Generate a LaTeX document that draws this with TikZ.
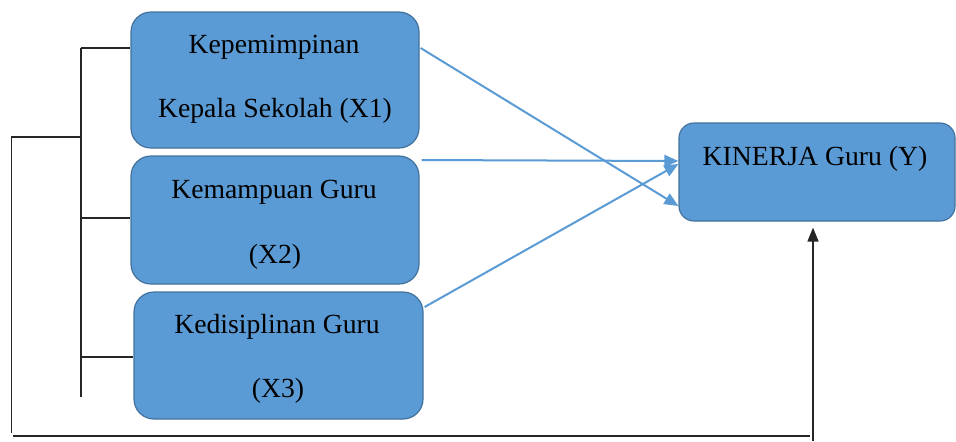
\documentclass[tikz,border=0pt]{standalone}
\usepackage{fontspec}
\setmainfont{Liberation Serif}
\usetikzlibrary{arrows.meta}
\definecolor{boxfill}{HTML}{5B9BD5}
\definecolor{boxline}{HTML}{41719C}
\definecolor{arrowblue}{HTML}{5B9BD5}
\begin{document}
\begin{tikzpicture}[x=0.5pt,y=-0.5pt,
  varbox/.style={draw=boxline, line width=0.6pt, fill=boxfill, rounded corners=10pt, inner sep=0pt},
  lbl/.style={anchor=base, inner sep=0pt, font=\fontsize{13.85}{16}\selectfont},
  bluearrow/.style={draw=arrowblue, line width=1pt, -{Triangle[length=7pt,width=6pt]}},
  blackline/.style={draw=black!85, line width=0.8pt}
]
\useasboundingbox (0,0) rectangle (956,441);
% boxes
\node[varbox, minimum width=144pt, minimum height=68pt] (X1) at (275,80) {};
\node[varbox, minimum width=144pt, minimum height=64pt] (X2) at (275,220) {};
\node[varbox, minimum width=144.5pt, minimum height=63.5pt] (X3) at (278.5,355.5) {};
\node[varbox, rounded corners=7.5pt, minimum width=138pt, minimum height=49pt] (Y) at (817,172) {};
% texts
\node[lbl] (t1a) at (274,53) {Kepemimpinan};
\node[lbl] (t1b) at (275,117) {Kepala Sekolah (X1)};
\node[lbl] (t2a) at (274,198) {Kemampuan Guru};
\node[lbl] (t2b) at (275,263) {(X2)};
\node[lbl] (t3a) at (277,333) {Kedisiplinan Guru};
\node[lbl] (t3b) at (278,397) {(X3)};
\node[lbl] (ty) at (815,165) {KINERJA Guru (Y)};
% blue arrows
\draw[bluearrow] ([xshift=0.5pt,yshift=16pt]X1.east) -- ([yshift=-17pt]Y.west);
\draw[bluearrow] ([xshift=1pt,yshift=30pt]X2.east) -- ([yshift=5.5pt]Y.west);
\draw[bluearrow] ([xshift=0.5pt,yshift=24.25pt]X3.east) -- ([yshift=4pt]Y.west);
% bracket
\coordinate (bTop) at (81,48);
\coordinate (bBot) at (81,397);
\coordinate (bMid) at (81,137);
\coordinate (b2) at (81,218);
\coordinate (b3) at (81,357);
\coordinate (lTop) at (11.5,137);
\coordinate (lBot) at (11.5,433);
\coordinate (hL) at (13,436);
\coordinate (hR) at (810,436);
\coordinate (vB) at (813,441);
\draw[blackline] (bTop) -- (bBot);
\draw[blackline] (bTop) -- (bTop -| X1.west);
\draw[blackline] (b2) -- (b2 -| X2.west);
\draw[blackline] (b3) -- (b3 -| X3.west);
\draw[blackline] (bMid) -- (lTop) -- (lBot);
\draw[blackline] (hL) -- (hR);
\draw[blackline, -{Triangle[length=7pt,width=5.5pt]}] (vB) -- ([yshift=-3pt]vB |- Y.south);
\end{tikzpicture}
\end{document}
